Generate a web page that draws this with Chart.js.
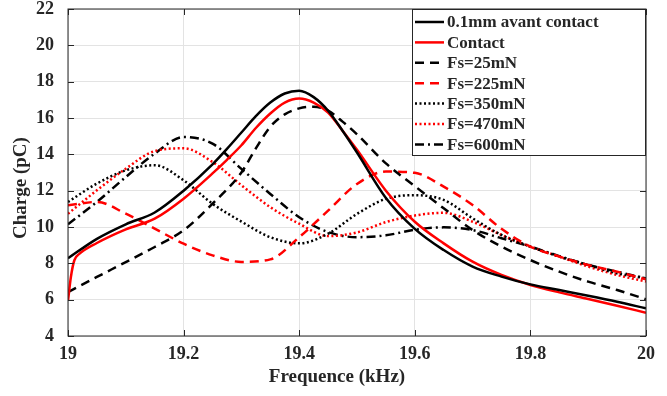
<!DOCTYPE html>
<html>
<head>
<meta charset="utf-8">
<script src="https://cdn.jsdelivr.net/npm/chart.js@4.4.1/dist/chart.umd.min.js"></script>
<style>
  body { margin: 0; background: #fff; }
  canvas { display: block; }
</style>
</head>
<body>
<canvas id="chart" width="667" height="396"></canvas>
<script>
// Frequencies (kHz) shared by all curves, finer around the resonance peak
const freq = [19, 19.05, 19.1, 19.15, 19.2, 19.25, 19.275, 19.3, 19.325, 19.35, 19.375,
              19.4, 19.425, 19.45, 19.475, 19.5, 19.55, 19.6, 19.65, 19.7, 19.75,
              19.8, 19.85, 19.9, 19.95, 20];

// Charge (pC) (null = not read at that frequency)
const avantContact = [8.28, 9.35, 10.15, 10.8, 12.0, 13.45, 14.3, 15.2, 16.1, 16.85, 17.35,
                      17.5, 17.15, 16.4, 15.3, 14.1, 11.6, 9.9, 8.73, 7.82, 7.27,
                      6.84, 6.53, 6.22, 5.89, 5.52];
// Contact curve has a sharp rise right at the start
const contactStartFreq = [19, 19.005, 19.011, 19.02];
const contactStart = [5.93, 7.25, 8.17, 8.53];
const contact = [null, 9.12, 9.87, 10.46, 11.56, 12.95, 13.7, 14.5, 15.45, 16.25, 16.85,
                 17.07, 16.85, 16.3, 15.3, 14.25, 12.0, 10.29, 9.1, 8.09, 7.36,
                 6.81, 6.4, 6.04, 5.67, 5.28];
const fs25 = [6.42, 7.25, 8.07, 8.9, 9.82, 11.28, null, 13.0, 14.33, 15.52, 16.2,
              16.53, 16.62, 16.4, 15.8, 15.1, 13.5, 12.25, 11.03, 9.83, 8.92,
              8.18, 7.54, 6.99, 6.53, 6.02];
const fs225 = [11.19, 11.38, 10.73, 9.91, 9.08, 8.44, null, 8.08, null, 8.22, null,
               9.44, null, 10.9, null, 12.37, 13.05, 12.98, 12.22, 11.21, 9.9,
               8.92, 8.37, 7.91, 7.54, 7.12];
const fs350 = [11.38, 12.39, 13.12, 13.4, 12.57, 11.28, null, 10.3, null, 9.44, null,
               9.1, null, 9.63, null, 10.72, 11.55, 11.75, 11.49, 10.48, 9.56,
               8.92, 8.37, 7.91, 7.45, 7.17];
const fs470 = [10.73, 12.02, 13.21, 14.18, 14.33, 13.58, null, 12.3, null, 11.09, null,
               10.18, null, 9.5, null, 9.7, 10.27, 10.63, 10.78, 10.29, 9.56,
               8.92, 8.37, 7.82, 7.36, 7.0];
const fs600 = [10.15, 11.38, 12.75, 14.04, 14.95, 14.59, null, 13.2, null, 11.82, null,
               10.54, null, 9.72, null, 9.44, 9.54, 9.85, 9.98, 9.83, 9.38,
               8.92, 8.4, 7.91, 7.54, 7.17];

const xTicks = [19, 19.2, 19.4, 19.6, 19.8, 20];
const yTicks = [4, 6, 8, 10, 12, 14, 16, 18, 20, 22];

const TEXT = '#262626';
const FONT = "'Liberation Serif', 'Times New Roman', serif";

function pts(xs, ys) {
    const out = [];
    xs.forEach((x, i) => { if (ys[i] !== null) out.push({ x: x, y: ys[i] }); });
    return out;
}

function series(label, data, color, dash) {
    return {
        label: label,
        data: data,
        borderColor: color,
        backgroundColor: color,
        borderWidth: 2.5,
        borderDash: dash,
        pointRadius: 0,
        fill: false,
        cubicInterpolationMode: 'monotone'
    };
}

const datasets = [
    series('0.1mm avant contact', pts(freq, avantContact), '#000000', []),
    series('Contact', pts(contactStartFreq, contactStart).concat(pts(freq, contact)), '#ff0000', []),
    series('Fs=25mN', pts(freq, fs25), '#000000', [9, 6]),
    series('Fs=225mN', pts(freq, fs225), '#ff0000', [9, 6]),
    series('Fs=350mN', pts(freq, fs350), '#000000', [2, 2.5]),
    series('Fs=470mN', pts(freq, fs470), '#ff0000', [2, 2.5]),
    series('Fs=600mN', pts(freq, fs600), '#000000', [9, 4, 2, 4])
];

// box, inward ticks, axis titles and legend, drawn MATLAB style
const matlabFrame = {
    id: 'matlabFrame',
    afterDraw(chart) {
        const c = chart.ctx;
        const a = chart.chartArea;
        const xs = chart.scales.x, ys = chart.scales.y;
        c.save();
        c.strokeStyle = TEXT;
        c.lineWidth = 1;
        c.setLineDash([]);
        c.strokeRect(a.left, a.top, a.right - a.left, a.bottom - a.top);
        c.beginPath();
        xTicks.forEach(t => {
            const px = Math.round(xs.getPixelForValue(t)) + 0.5;
            c.moveTo(px, a.bottom); c.lineTo(px, a.bottom - 6);
            c.moveTo(px, a.top); c.lineTo(px, a.top + 6);
        });
        yTicks.forEach(t => {
            const py = Math.round(ys.getPixelForValue(t)) + 0.5;
            c.moveTo(a.left, py); c.lineTo(a.left + 6, py);
            c.moveTo(a.right, py); c.lineTo(a.right - 6, py);
        });
        c.stroke();

        // axis titles
        c.fillStyle = TEXT;
        c.font = 'bold 19px ' + FONT;
        c.textAlign = 'center';
        c.textBaseline = 'middle';
        c.fillText('Frequence (kHz)', 337, 377);
        c.save();
        c.translate(21, 188);
        c.rotate(-Math.PI / 2);
        c.fillText('Charge (pC)', 0, 0);
        c.restore();

        // legend
        const lx = 412, ly = 9, lw = 233, lh = 146;
        c.fillStyle = '#fff';
        c.fillRect(lx, ly, lw, lh);
        c.strokeRect(lx + 0.5, ly + 0.5, lw, lh);
        c.font = 'bold 17px ' + FONT;
        c.textAlign = 'left';
        chart.data.datasets.forEach((ds, i) => {
            const y = 22 + i * 20.4;
            c.strokeStyle = ds.borderColor;
            c.lineWidth = ds.borderWidth;
            c.setLineDash(ds.borderDash);
            c.beginPath();
            c.moveTo(415, y); c.lineTo(444, y);
            c.stroke();
            c.fillStyle = TEXT;
            c.fillText(ds.label, 447, y + 1);
        });
        c.restore();
    }
};

const ctx = document.getElementById('chart').getContext('2d');
new Chart(ctx, {
    type: 'line',
    data: { datasets: datasets },
    options: {
        responsive: false,
        animation: false,
        layout: { padding: { top: 9, right: 21, left: 0, bottom: 0 } },
        plugins: { legend: { display: false }, tooltip: { enabled: false } },
        scales: {
            x: {
                type: 'linear',
                min: 19,
                max: 20,
                afterBuildTicks: s => { s.ticks = xTicks.map(v => ({ value: v })); },
                afterFit: s => { s.height = 60; s.paddingLeft = 0; s.paddingRight = 0; },
                grid: { color: '#e3e3e3', drawTicks: false },
                border: { display: false },
                ticks: {
                    padding: 8,
                    color: TEXT,
                    font: { family: FONT, size: 18, weight: 'bold' },
                    callback: v => String(Number(v.toFixed(1)))
                }
            },
            y: {
                min: 4,
                max: 22,
                afterBuildTicks: s => { s.ticks = yTicks.map(v => ({ value: v })); },
                afterFit: s => { s.width = 68; s.paddingTop = 0; s.paddingBottom = 0; },
                grid: { color: '#e3e3e3', drawTicks: false },
                border: { display: false },
                ticks: {
                    padding: 14,
                    color: TEXT,
                    font: { family: FONT, size: 18, weight: 'bold' }
                }
            }
        }
    },
    plugins: [matlabFrame]
});
</script>
</body>
</html>
